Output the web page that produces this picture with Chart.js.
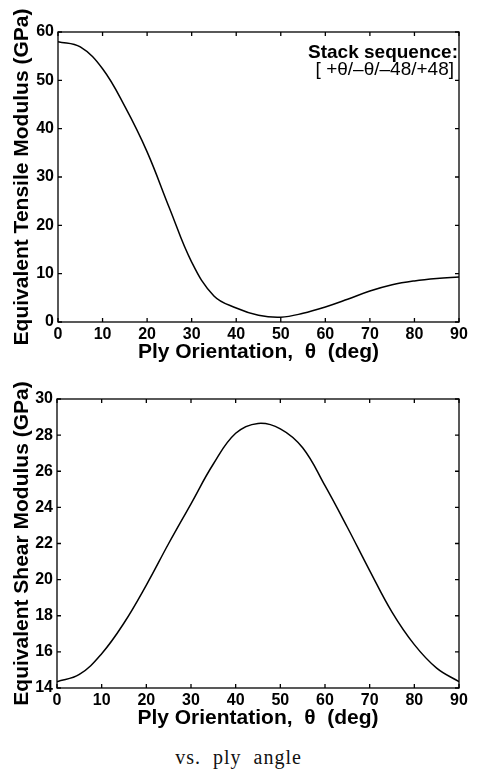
<!DOCTYPE html>
<html>
<head>
<meta charset="utf-8">
<script src="https://cdn.jsdelivr.net/npm/chart.js@4.4.1/dist/chart.umd.min.js"></script>
<style>
  body { margin: 0; background: #fff; width: 477px; height: 774px; overflow: hidden; position: relative; }
  .box { position: absolute; left: 0; width: 477px; }
  #caption {
    position: absolute; left: 0; width: 477px; top: 746px; text-align: center;
    font-family: "Liberation Serif", "DejaVu Serif", serif; font-size: 20px;
    letter-spacing: 1px; word-spacing: 6px; color: #111;
  }
</style>
</head>
<body>
<div class="box" style="top:0;height:370px"><canvas id="tensile"></canvas></div>
<div class="box" style="top:370px;height:366px"><canvas id="shear"></canvas></div>
<div id="caption">vs. ply angle</div>
<script>
// ply angle, degrees
const angles = [0, 5, 10, 15, 20, 25, 30, 35, 40, 45, 50, 55, 60, 65, 70, 75, 80, 85, 90];
// equivalent tensile modulus, GPa
const tensile = [58.0, 56.9, 52.4, 44.6, 35.2, 23.6, 12.4, 5.4, 2.9, 1.4, 1.0, 1.8, 3.1, 4.7, 6.4, 7.7, 8.5, 9.0, 9.3];
// equivalent shear modulus, GPa
const shear = [14.35, 14.75, 15.9, 17.6, 19.7, 22.0, 24.2, 26.4, 28.1, 28.65, 28.35, 27.3, 25.2, 22.9, 20.5, 18.2, 16.4, 15.1, 14.35];

const xTitle = 'Ply Orientation,  \u03b8  (deg)';
const noteLines = ['Stack sequence:', '[ +\u03b8/\u2013\u03b8/\u201348/+48]'];

// matlab style box with inward ticks on all four sides
const frameTicks = {
  id: 'frameTicks',
  afterDraw(chart) {
    const { ctx, chartArea: a } = chart;
    const xs = chart.scales.x, ys = chart.scales.y;
    const len = 4;
    ctx.save();
    ctx.strokeStyle = '#000';
    ctx.lineWidth = 1.3;
    ctx.strokeRect(a.left, a.top, a.right - a.left, a.bottom - a.top);
    ctx.beginPath();
    xs.ticks.forEach(t => {
      const px = xs.getPixelForValue(t.value);
      ctx.moveTo(px, a.bottom); ctx.lineTo(px, a.bottom - len);
      ctx.moveTo(px, a.top); ctx.lineTo(px, a.top + len);
    });
    ys.ticks.forEach(t => {
      const py = ys.getPixelForValue(t.value);
      ctx.moveTo(a.left, py); ctx.lineTo(a.left + len, py);
      ctx.moveTo(a.right, py); ctx.lineTo(a.right - len, py);
    });
    ctx.stroke();
    ctx.restore();
  }
};

const stackNote = {
  id: 'stackNote',
  afterDraw(chart) {
    if (chart.canvas.id !== 'tensile') return;
    const { ctx, chartArea: a } = chart;
    ctx.save();
    ctx.fillStyle = '#000';
    ctx.textAlign = 'right';
    ctx.textBaseline = 'alphabetic';
    ctx.font = 'bold 19px "Liberation Sans", Arial, sans-serif';
    ctx.fillText(noteLines[0], a.right - 1, a.top + 26);
    ctx.font = '19px "Liberation Sans", Arial, sans-serif';
    ctx.fillText(noteLines[1], a.right - 5, a.top + 43);
    ctx.restore();
  }
};

const tickFont = { family: '"Liberation Sans", Arial, sans-serif', size: 16, weight: 'bold' };
const titleFont = { family: '"Liberation Sans", Arial, sans-serif', size: 21, weight: 'bold' };

function makeChart(id, values, yTitle, yMin, yMax, yStep, pad, yWidth) {
  return new Chart(document.getElementById(id), {
    type: 'line',
    data: {
      datasets: [{
        data: angles.map((a, i) => ({ x: a, y: values[i] })),
        borderColor: '#000',
        borderWidth: 1.5,
        pointRadius: 0,
        tension: 0.4,
        fill: false
      }]
    },
    options: {
      responsive: true,
      maintainAspectRatio: false,
      animation: false,
      layout: { padding: pad },
      plugins: { legend: { display: false }, tooltip: { enabled: false } },
      scales: {
        x: {
          type: 'linear', min: 0, max: 90,
          grid: { display: false, drawTicks: false }, border: { display: false },
          ticks: { stepSize: 10, color: '#000', font: tickFont, padding: 3, maxRotation: 0 },
          title: { display: true, text: xTitle, color: '#000', font: titleFont, padding: { top: 0, bottom: 5 } },
          afterFit(s) { s.height = 48; }
        },
        y: {
          type: 'linear', min: yMin, max: yMax,
          grid: { display: false, drawTicks: false }, border: { display: false },
          ticks: { stepSize: yStep, color: '#000', font: tickFont, padding: 4 },
          title: { display: true, text: yTitle, color: '#000', font: titleFont, padding: { top: 10, bottom: 0 } },
          afterFit(s) { s.width = yWidth; }
        }
      }
    },
    plugins: [frameTicks, stackNote]
  });
}

makeChart('tensile', tensile, 'Equivalent Tensile Modulus (GPa)', 0, 60, 10,
  { top: 32, right: 18, left: 0, bottom: 0 }, 58);
makeChart('shear', shear, 'Equivalent Shear Modulus (GPa)', 14, 30, 2,
  { top: 29, right: 18, left: 0, bottom: 0 }, 57);
</script>
</body>
</html>
